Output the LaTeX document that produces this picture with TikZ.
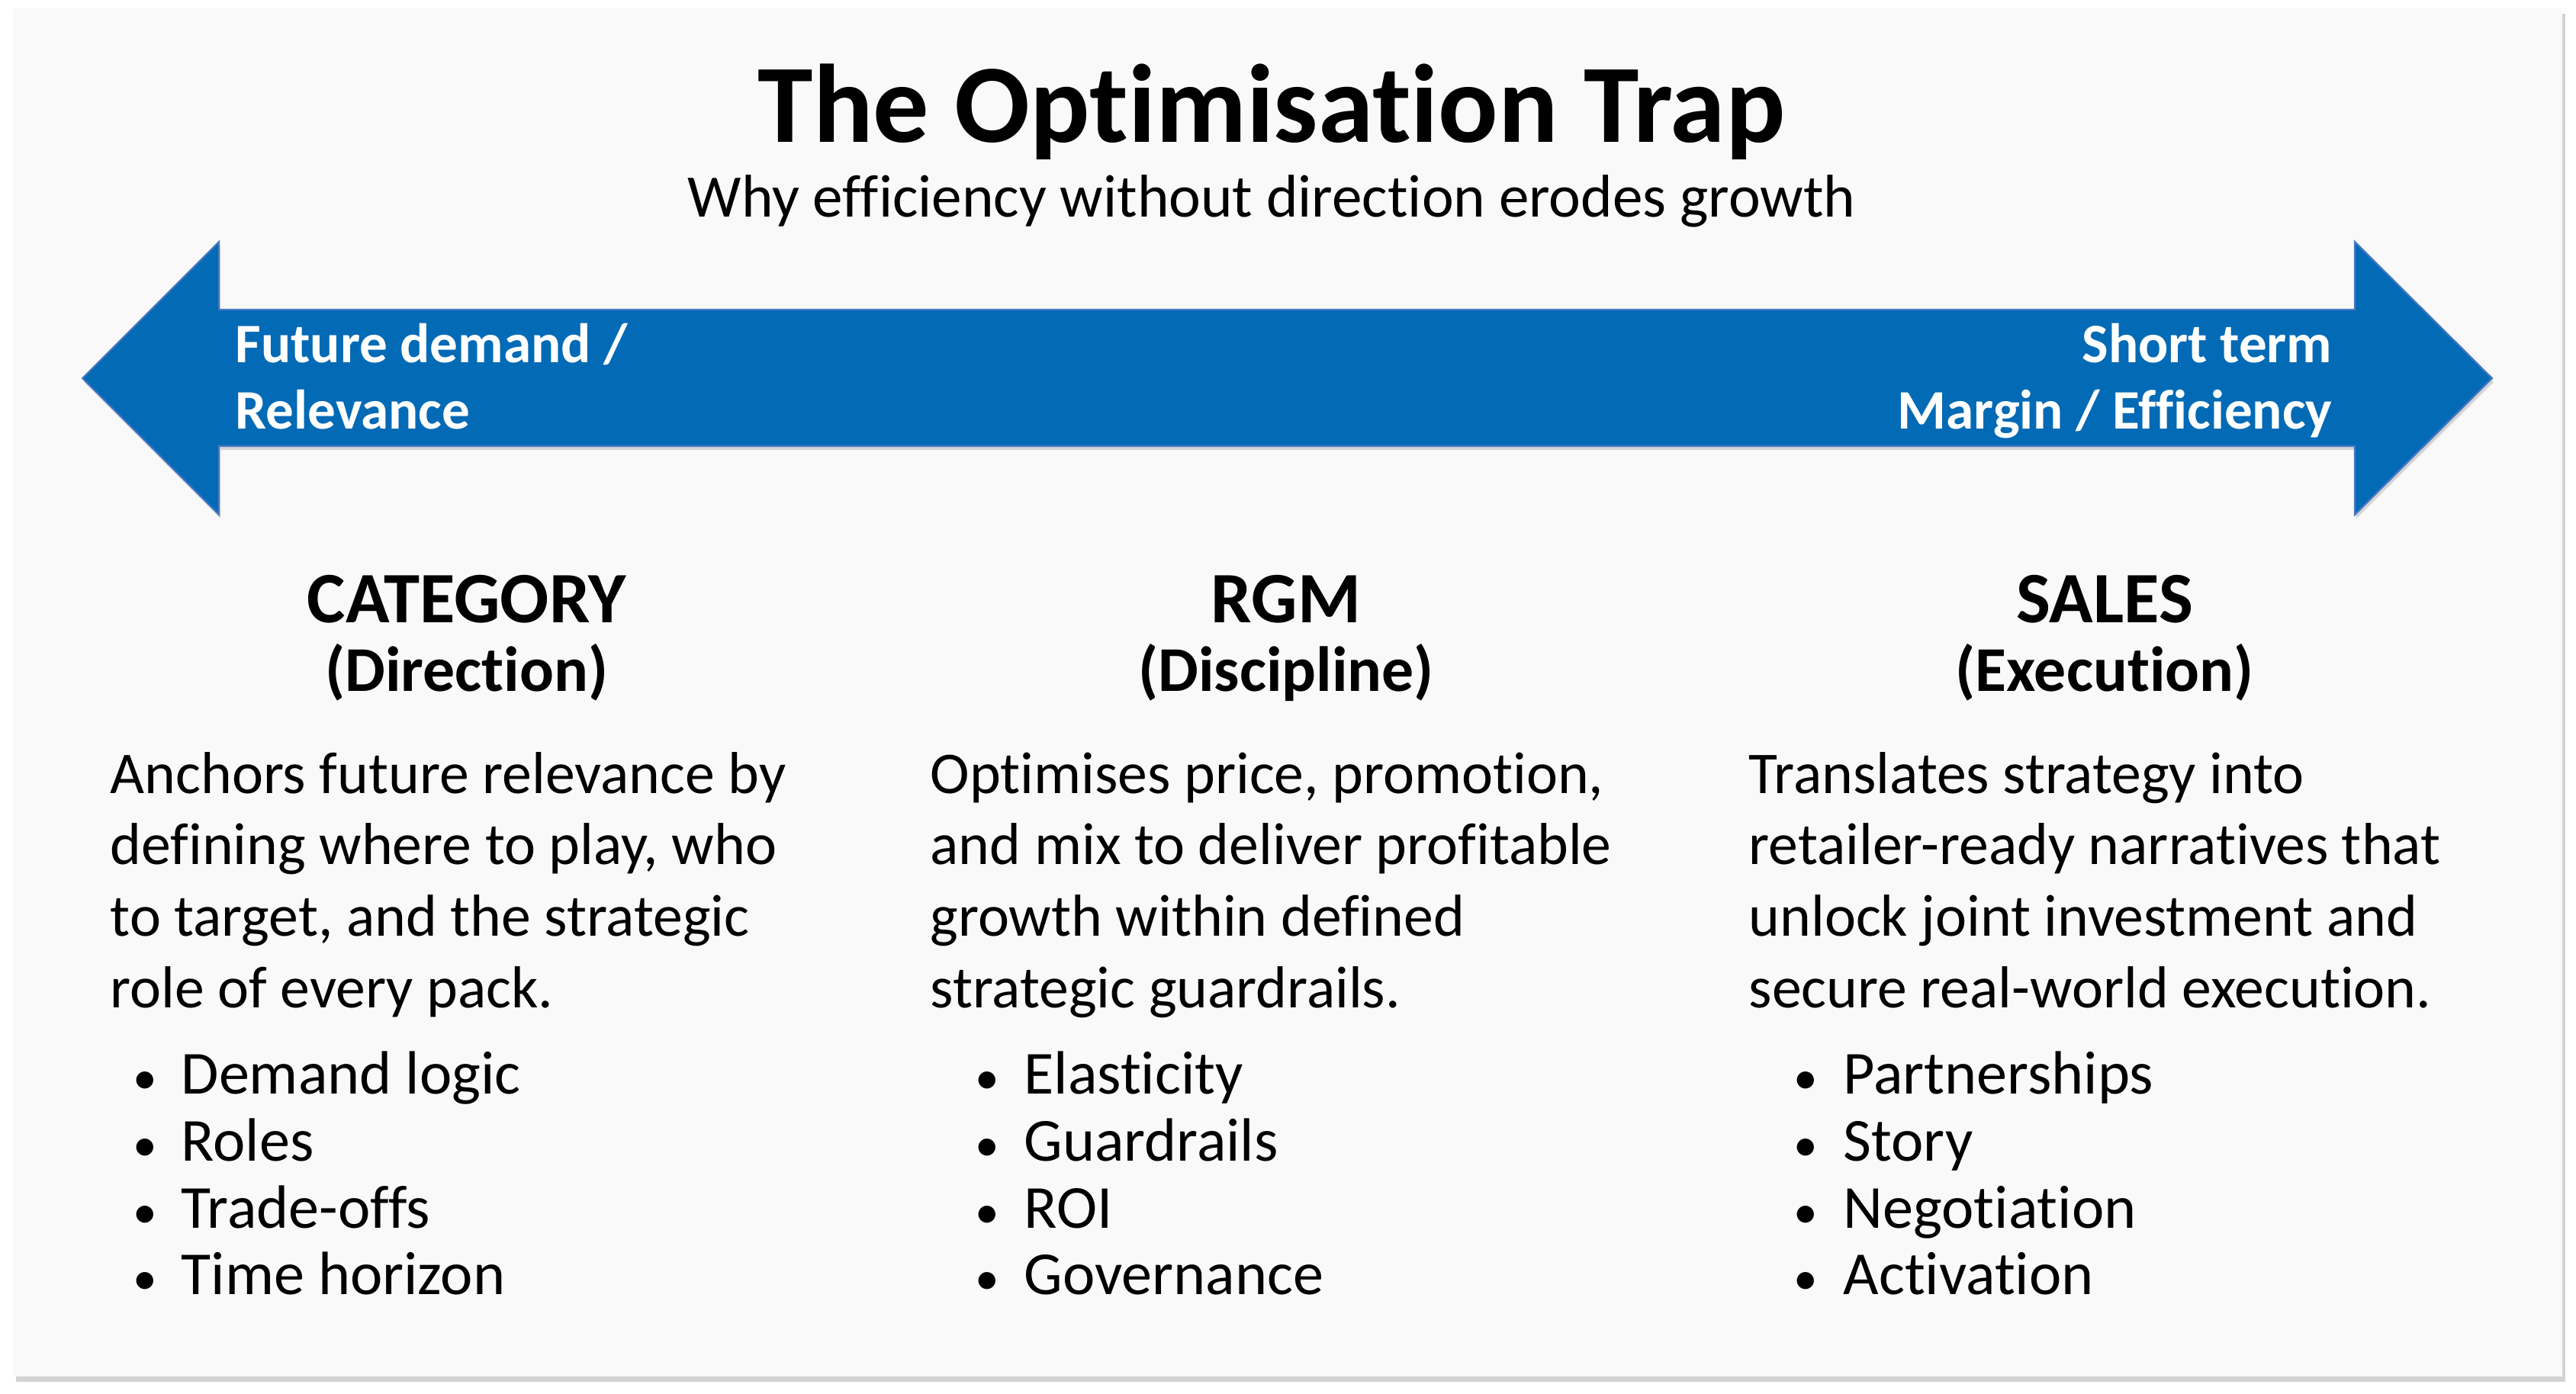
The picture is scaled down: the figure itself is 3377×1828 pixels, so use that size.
\documentclass[tikz,border=0pt]{standalone}
\usepackage{fontspec}
\setmainfont{Carlito}[Ligatures=NoCommon]
\usetikzlibrary{shadows}

\definecolor{trapblue}{HTML}{036AB6}
\definecolor{trapedge}{HTML}{4A78C2}
\definecolor{panelbg}{HTML}{F9F9F9}

\tikzset{
  maintitle/.style={anchor=base, inner sep=0pt, font=\bfseries\fontsize{41.6}{48}\selectfont},
  subtitle/.style={anchor=base, inner sep=0pt, font=\fontsize{22.5}{26}\selectfont},
  arrowlabel/.style={inner sep=0pt, text=white, font=\bfseries\fontsize{20.8}{25}\selectfont},
  colhead/.style={anchor=base, inner sep=0pt, font=\bfseries\fontsize{27}{32}\selectfont},
  colsub/.style={anchor=base, inner sep=0pt, font=\bfseries\fontsize{23.8}{28}\selectfont},
  colbody/.style={anchor=base west, align=left, inner sep=0pt, font=\fontsize{22.1}{26.6}\selectfont},
  bulletitem/.style={anchor=base west, inner sep=0pt, font=\fontsize{22.8}{25}\selectfont},
  bulletdot/.style={anchor=base, inner sep=0pt, font=\fontsize{18}{25}\selectfont},
}

\begin{document}
\begin{tikzpicture}[x=0.01cm, y=-0.01cm]

\useasboundingbox (0,0) rectangle (3377,1828);

% panel with its shadow
\fill[panelbg, drop shadow={shadow xshift=0.04cm, shadow yshift=-0.07cm, opacity=0.35}]
  (17,11) rectangle (3359,1805);

% the two-headed arrow
\filldraw[fill=trapblue, draw=trapedge, line width=0.6pt,
  drop shadow={shadow xshift=0.02cm, shadow yshift=-0.05cm, opacity=0.3}]
  (108,496) -- (287,317) -- (287,406) -- (3087,406) -- (3087,317) -- (3267,496)
  -- (3087,675) -- (3087,585) -- (287,585) -- (287,675) -- cycle;

% titles
\node[maintitle] (title) at (1667,187) {The Optimisation Trap};
\node[subtitle] (subtitle) at (1667,285) {Why efficiency without direction erodes growth};

% arrow labels (base = last line)
\node[arrowlabel, anchor=base west, align=left] (leftlabel) at (308,563)
  {Future demand /\\Relevance};
\node[arrowlabel, anchor=base east, align=right] (rightlabel) at (3058,563)
  {Short term\\Margin / Efficiency};

% column 1
\node[colhead] (cathead) at (612,817) {CATEGORY};
\node[colsub] (catsub) at (612,907) {(Direction)};
\node[colbody] (catbody) at (144,1321)
  {Anchors future relevance by\\defining where to play, who\\to target, and the strategic\\role of every pack.};
\foreach \t [count=\i from 0] in {Demand logic, Roles, Trade-offs, Time horizon} {
  \node[bulletdot] (catdot\i) at (190,1435+87.5*\i) {\textbullet};
  \node[bulletitem] (catitem\i) at (237,1435+87.5*\i) {\t};
}

% column 2
\node[colhead] (rgmhead) at (1686,817) {RGM};
\node[colsub] (rgmsub) at (1686,907) {(Discipline)};
\node[colbody] (rgmbody) at (1219,1321)
  {Optimises price, promotion,\\and mix to deliver profitable\\growth within defined\\strategic guardrails.};
\foreach \t [count=\i from 0] in {Elasticity, Guardrails, ROI, Governance} {
  \node[bulletdot] (rgmdot\i) at (1294,1435+87.5*\i) {\textbullet};
  \node[bulletitem] (rgmitem\i) at (1342,1435+87.5*\i) {\t};
}

% column 3
\node[colhead] (saleshead) at (2759,817) {SALES};
\node[colsub] (salessub) at (2759,907) {(Execution)};
\node[colbody] (salesbody) at (2292,1321)
  {Translates strategy into\\retailer-ready narratives that\\unlock joint investment and\\secure real-world execution.};
\foreach \t [count=\i from 0] in {Partnerships, Story, Negotiation, Activation} {
  \node[bulletdot] (salesdot\i) at (2367,1435+87.5*\i) {\textbullet};
  \node[bulletitem] (salesitem\i) at (2416,1435+87.5*\i) {\t};
}

\end{tikzpicture}
\end{document}
